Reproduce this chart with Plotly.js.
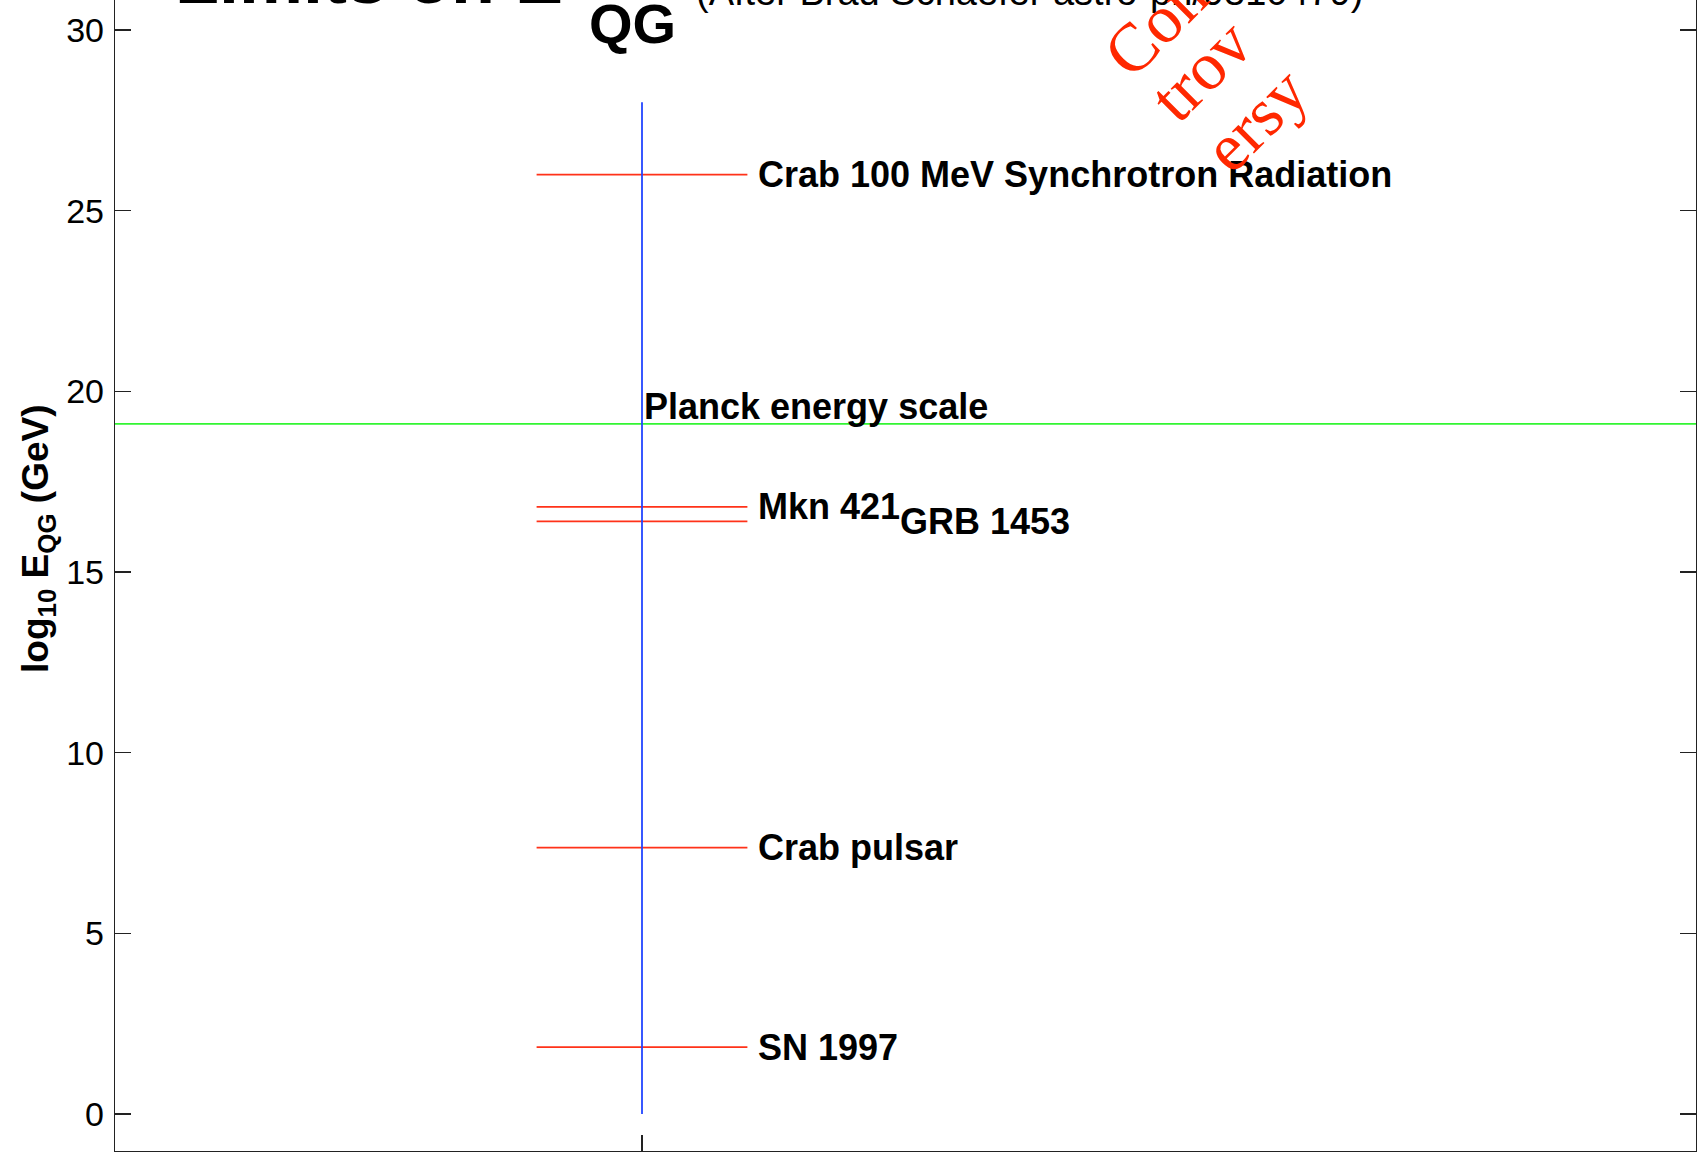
<!DOCTYPE html>
<html>
<head>
<meta charset="utf-8">
<script src="https://cdn.plot.ly/plotly-3.0.1.min.js"></script>
<style>
  html, body { margin: 0; padding: 0; background: #ffffff; overflow: hidden; }
  #chart { width: 1697px; height: 1152px; }
</style>
</head>
<body>
<div id="chart"></div>
<script>
// ---- data ----
const sourceNames = ['Crab 100 MeV Synchrotron Radiation', 'Mkn 421', 'GRB 1453', 'Crab pulsar', 'SN 1997'];
const logEqgLimits = [26.0, 16.8, 16.4, 7.37, 1.85];
const limitBarStart = [0.8, 0.8, 0.8, 0.8, 0.8];
const limitBarEnd = [1.2, 1.2, 1.2, 1.2, 1.2];
const scaleAxisX = [1, 1];
const scaleAxisY = [0, 28];
const planckLogE = 19.1;
const planckLineX = [0, 3];
const planckLabel = 'Planck energy scale';
const yTickValues = [0, 5, 10, 15, 20, 25, 30];
const controversyParts = ['Con', 'trov', 'ersy'];

// ---- build traces ----
const redX = [], redY = [];
for (let i = 0; i < logEqgLimits.length; i++) {
  redX.push(limitBarStart[i], limitBarEnd[i], null);
  redY.push(logEqgLimits[i], logEqgLimits[i], null);
}

const traces = [
  { type: 'scatter', mode: 'lines', x: redX, y: redY,
    line: { color: 'rgb(255,50,25)', width: 1.8 }, hoverinfo: 'skip', showlegend: false },
  { type: 'scatter', mode: 'lines', x: planckLineX, y: [planckLogE, planckLogE],
    line: { color: 'rgb(50,245,50)', width: 1.8 }, hoverinfo: 'skip', showlegend: false },
  { type: 'scatter', mode: 'lines', x: scaleAxisX, y: scaleAxisY,
    line: { color: 'rgb(35,70,255)', width: 1.8 }, hoverinfo: 'skip', showlegend: false }
];

// ---- layout geometry ----
const W = 1697, H = 1152;
const M = { l: 115, r: 1, t: 0, b: 1 };
const PW = W - M.l - M.r, PH = H - M.t - M.b;
const px = (xp) => (xp - M.l) / PW;      // page x pixel -> paper x
const py = (yp) => 1 - (yp - M.t) / PH;  // page y pixel -> paper y

const sansB = { family: 'Liberation Sans, Arial, sans-serif', color: '#000000' };

const annotations = [];

// data labels
const labelShift = [9, 9, 9 + 142, 9, 9];
for (let i = 0; i < sourceNames.length; i++) {
  annotations.push({
    xref: 'x', yref: 'y', x: limitBarEnd[i], y: logEqgLimits[i],
    text: '<b>' + sourceNames[i] + '</b>', showarrow: false,
    xanchor: 'left', yanchor: 'middle', xshift: labelShift[i],
    font: Object.assign({ size: 36 }, sansB)
  });
}
// Planck label
annotations.push({
  xref: 'x', yref: 'y', x: scaleAxisX[0], y: planckLogE,
  text: '<b>' + planckLabel + '</b>', showarrow: false,
  xanchor: 'left', yanchor: 'middle', xshift: 0, yshift: 17,
  font: Object.assign({ size: 36 }, sansB)
});

// title pieces (cut off at the top of the figure)
annotations.push({
  xref: 'paper', yref: 'paper', x: px(173), y: 1, xanchor: 'left', yanchor: 'middle',
  yshift: 22, text: '<b>Limits on E</b>', showarrow: false,
  font: Object.assign({ size: 72 }, sansB)
});
annotations.push({
  xref: 'paper', yref: 'paper', x: px(632), y: 1, xanchor: 'center', yanchor: 'middle',
  yshift: -23, text: '<b>QG</b>', showarrow: false,
  font: Object.assign({ size: 56 }, sansB)
});
annotations.push({
  xref: 'paper', yref: 'paper', x: px(694), y: 1, xanchor: 'left', yanchor: 'middle',
  yshift: 8, text: '(After Brad Schaefer astro-ph/9810479)', showarrow: false,
  font: { family: 'Liberation Sans, Arial, sans-serif', size: 38, color: '#000000' }
});

// y axis title
annotations.push({
  xref: 'paper', yref: 'paper', x: px(38), y: py(539), xanchor: 'center', yanchor: 'middle',
  textangle: -90, showarrow: false,
  text: '<b>log<sub>10</sub> E<sub>QG</sub> (GeV)</b>',
  font: Object.assign({ size: 37 }, sansB)
});

// "Controversy" stamp
const contPos = [[1155, 25], [1201, 70], [1255, 120]];
for (let i = 0; i < controversyParts.length; i++) {
  annotations.push({
    xref: 'paper', yref: 'paper', x: px(contPos[i][0]), y: py(contPos[i][1]),
    xanchor: 'center', yanchor: 'middle', textangle: -45, showarrow: false,
    text: controversyParts[i],
    font: { family: 'Liberation Serif, Times New Roman, serif', size: 68, color: 'rgb(255,40,0)' }
  });
}

const layout = {
  width: W, height: H,
  margin: M,
  paper_bgcolor: '#ffffff', plot_bgcolor: '#ffffff',
  showlegend: false,
  xaxis: {
    range: [0, 3], showgrid: false, zeroline: false,
    showline: true, linecolor: '#222222', linewidth: 1.2, mirror: false,
    ticks: 'inside', ticklen: 16, tickcolor: '#222222', tickwidth: 1.2,
    tickvals: [1], showticklabels: false, fixedrange: true
  },
  yaxis: {
    range: [-1.024, 30.83], showgrid: false, zeroline: false,
    showline: true, linecolor: '#222222', linewidth: 1.2, mirror: 'ticks',
    ticks: 'inside', ticklen: 16, tickcolor: '#222222', tickwidth: 1.2,
    tickvals: yTickValues, ticktext: yTickValues.map(String),
    ticklabelstandoff: 3,
    tickfont: { family: 'Liberation Sans, Arial, sans-serif', size: 34, color: '#000000' },
    fixedrange: true
  },
  annotations: annotations
};

Plotly.newPlot('chart', traces, layout, { displayModeBar: false, staticPlot: true });
</script>
</body>
</html>
